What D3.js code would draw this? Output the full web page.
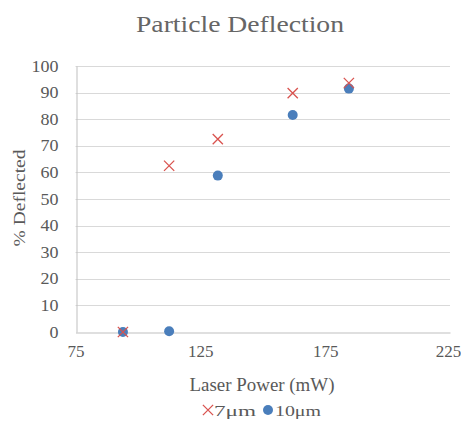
<!DOCTYPE html>
<html>
<head>
<meta charset="utf-8">
<script src="https://cdn.jsdelivr.net/npm/d3@7"></script>
<style>
  body { margin: 0; background: #fff; }
  svg text { font-family: "Liberation Serif", "Times New Roman", serif !important; fill: #595959; }
</style>
</head>
<body>
<div id="chart"></div>
<script>
// data
const power7 = [94, 112.5, 132, 162, 184.5];
const defl7 = [0, 62.5, 72.5, 89.8, 93.6];
const power10 = [94, 112.5, 132, 162, 184.5];
const defl10 = [0, 0.3, 58.8, 81.6, 91.5];
const xTicks = [75, 125, 175, 225];
const yTicks = [0, 10, 20, 30, 40, 50, 60, 70, 80, 90, 100];

const width = 461, height = 428;
const margin = {top: 66, left: 75.5, right: 11, bottom: 96};

const svg = d3.select("#chart").append("svg")
    .attr("width", width)
    .attr("height", height);

const xScale = d3.scaleLinear()
    .domain([75, 225])
    .range([margin.left, width - margin.right]);

const yScale = d3.scaleLinear()
    .domain([0, 100])
    .range([height - margin.bottom, margin.top]);

// gridlines
svg.append("g")
    .selectAll("line")
    .data(yTicks.filter(d => d > 0))
    .enter()
    .append("line")
        .attr("x1", xScale(75))
        .attr("x2", xScale(225))
        .attr("y1", d => Math.round(yScale(d)) + 0.5)
        .attr("y2", d => Math.round(yScale(d)) + 0.5)
        .attr("stroke", "#d9d9d9");

// axes
const xAxis = svg.append("g")
    .attr("transform", `translate(0,${Math.round(yScale(0)) + 0.5})`)
    .call(d3.axisBottom(xScale).tickValues(xTicks).tickSize(0).tickPadding(13));

const yAxis = svg.append("g")
    .attr("transform", `translate(${Math.round(xScale(75)) + 0.5},0)`)
    .call(d3.axisLeft(yScale).tickValues(yTicks).tickSize(0).tickPadding(18));

svg.selectAll(".domain").attr("stroke", "#bfbfbf");
svg.selectAll(".tick text")
    .attr("font-size", 16)
    .attr("fill", "#595959");
// the source picture is a bit stretched sideways, so widen the digits
xAxis.selectAll(".tick text")
    .attr("textLength", d => String(d).length * 8.5)
    .attr("lengthAdjust", "spacingAndGlyphs");
xAxis.selectAll(".tick:last-of-type text").attr("dx", -2);
yAxis.selectAll(".tick text")
    .attr("textLength", d => String(d).length * 9)
    .attr("lengthAdjust", "spacingAndGlyphs");

// points
const pts10 = power10.map((p, i) => ({x: p, y: defl10[i]}));
const pts7 = power7.map((p, i) => ({x: p, y: defl7[i]}));

svg.selectAll("circle.s10")
    .data(pts10)
    .enter()
    .append("circle")
        .attr("class", "s10")
        .attr("cx", d => xScale(d.x))
        .attr("cy", d => yScale(d.y))
        .attr("r", 5)
        .attr("fill", "#4a7ebb");

const cross = d3.symbol().type(d3.symbolX).size(70);
svg.selectAll("path.s7")
    .data(pts7)
    .enter()
    .append("path")
        .attr("class", "s7")
        .attr("d", cross)
        .attr("transform", d => `translate(${xScale(d.x)},${yScale(d.y)})`)
        .attr("fill", "none")
        .attr("stroke", "#d9534f")
        .attr("stroke-width", 1.3);

// title and labels
svg.append("text")
    .attr("x", 240)
    .attr("y", 32)
    .attr("text-anchor", "middle")
    .attr("font-size", 23)
    .attr("textLength", 208)
    .attr("lengthAdjust", "spacingAndGlyphs")
    .style("fill", "#666")
    .text("Particle Deflection");

svg.append("text")
    .attr("x", 262)
    .attr("y", 391)
    .attr("text-anchor", "middle")
    .attr("font-size", 18)
    .attr("textLength", 145)
    .attr("lengthAdjust", "spacingAndGlyphs")
    .text("Laser Power (mW)");

svg.append("text")
    .attr("transform", "rotate(-90)")
    .attr("x", -198)
    .attr("y", 25)
    .attr("text-anchor", "middle")
    .attr("font-size", 17)
    .attr("textLength", 97)
    .attr("lengthAdjust", "spacingAndGlyphs")
    .text("% Deflected");

// legend
const legend = svg.append("g").attr("transform", "translate(0,410)");
legend.append("path")
    .attr("d", cross)
    .attr("transform", "translate(208,0)")
    .attr("fill", "none")
    .attr("stroke", "#d9534f")
    .attr("stroke-width", 1.3);
legend.append("text")
    .attr("x", 214).attr("y", 6)
    .attr("font-size", 15)
    .attr("textLength", 42)
    .attr("lengthAdjust", "spacingAndGlyphs")
    .text("7μm");
legend.append("circle")
    .attr("cx", 268).attr("cy", 0).attr("r", 5)
    .attr("fill", "#4a7ebb");
legend.append("text")
    .attr("x", 275).attr("y", 6)
    .attr("font-size", 15)
    .attr("textLength", 46)
    .attr("lengthAdjust", "spacingAndGlyphs")
    .text("10μm");
</script>
</body>
</html>
